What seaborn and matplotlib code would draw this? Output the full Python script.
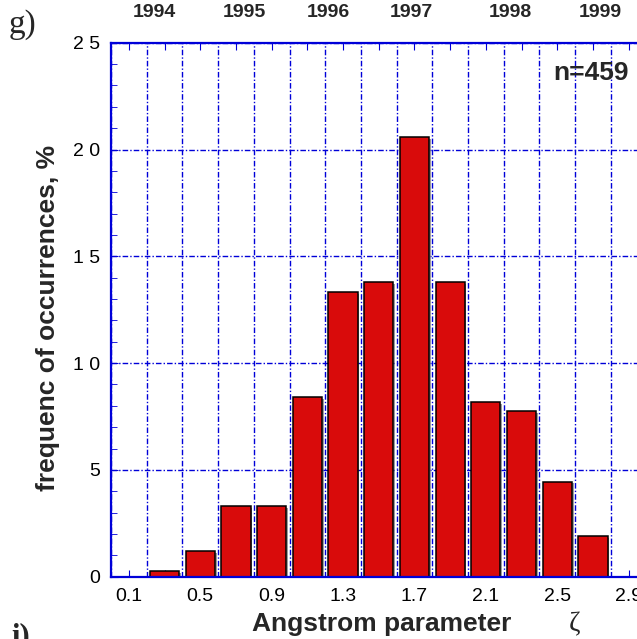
import numpy as np
import pandas as pd
import matplotlib
matplotlib.use("Agg")
import matplotlib.pyplot as plt
import matplotlib.patheffects as pe
from matplotlib.ticker import FixedLocator, FixedFormatter, FuncFormatter, MultipleLocator
import seaborn as sns

# ---------------- data ----------------
angstrom_bins = [0.3, 0.5, 0.7, 0.9, 1.1, 1.3, 1.5, 1.7, 1.9, 2.1, 2.3, 2.5, 2.7]
frequency_pct = [0.27, 1.19, 3.30, 3.30, 8.41, 13.32, 13.80, 20.58, 13.80, 8.18, 7.76, 4.45, 1.90]
x_tick_values = [0.1, 0.5, 0.9, 1.3, 1.7, 2.1, 2.5, 2.9]
x_tick_labels = ["0.1", "0.5", "0.9", "1.3", "1.7", "2.1", "2.5", "2.9"]
y_tick_values = [0, 5, 10, 15, 20, 25]
y_tick_labels = ["0", "5", "1 0", "1 5", "2 0", "2 5"]
year_labels = ["1994", "1995", "1996", "1997", "1998", "1999"]
sample_size = 459

# layout-only positions of the year captions (data units along x)
year_x = [0.245, 0.75, 1.215, 1.68, 2.235, 2.74]

df = pd.DataFrame({"angstrom": angstrom_bins, "freq": frequency_pct})

sns.set_style("ticks")
plt.rcParams["font.family"] = ["Liberation Sans", "DejaVu Sans"]

W, H = 637, 639
fig = plt.figure(figsize=(W / 100, H / 100), dpi=100)
ax = fig.add_axes([111 / W, 62.3 / H, 535.5 / W, 534 / H])

blue = "#0000D8"
grid_ls = (0, (4, 1.5, 1, 1.5))

sns.barplot(data=df, x="angstrom", y="freq", native_scale=True, width=0.82,
            color="#D90B0B", saturation=1, edgecolor="black", linewidth=1.1,
            errorbar=None, ax=ax)
for p in ax.patches:
    p.set_path_effects([pe.SimplePatchShadow(offset=(1.2, -1.2), shadow_rgbFace="0.45", alpha=0.7),
                        pe.Normal()])

ax.set_xlim(0, 3.0)
ax.set_ylim(0, 25)

# x ticks: marks at every bin centre, labels every other one; grid at bin edges
ax.xaxis.set_major_locator(MultipleLocator(0.2, offset=0.1))
lab_map = dict(zip([round(v, 2) for v in x_tick_values], x_tick_labels))
ax.xaxis.set_major_formatter(FuncFormatter(lambda v, pos: lab_map.get(round(v, 2), "")))
ax.xaxis.set_minor_locator(MultipleLocator(0.2))

ax.yaxis.set_major_locator(FixedLocator(y_tick_values))
ax.yaxis.set_major_formatter(FixedFormatter(y_tick_labels))
ax.yaxis.set_minor_locator(MultipleLocator(1))

ax.set_axisbelow(True)
ax.grid(which="minor", axis="x", color=blue, linestyle=grid_ls, linewidth=1.0)
ax.grid(which="major", axis="y", color=blue, linestyle=grid_ls, linewidth=1.0)
ax.grid(which="major", axis="x", visible=False)

ax.tick_params(which="both", direction="in", color=blue, top=True, right=True,
               labelsize=14, labelcolor="black")
ax.tick_params(axis="x", which="major", length=5, pad=8)
ax.tick_params(axis="x", which="minor", length=0)
ax.tick_params(axis="y", which="major", length=5, pad=8)
ax.tick_params(axis="y", which="minor", length=4)

for s in ax.spines.values():
    s.set_color(blue)
    s.set_linewidth(1.6)

ax.set_xlabel("Angstrom parameter", fontsize=19, fontweight="bold")
ax.xaxis.label.set(ha="center", va="center")
ax.xaxis.set_label_coords(0.505, -0.0886)
ax.set_ylabel("frequenc of occurrences, %", fontsize=19, fontweight="bold")
ax.yaxis.label.set(ha="center", va="center")
ax.yaxis.set_label_coords(-0.1176, 0.4845)

ax.text(0.897, 0.943, f"n={sample_size}", transform=ax.transAxes, fontsize=19,
        fontweight="bold", ha="center", va="center")

tr = ax.get_xaxis_transform()
for xv, yl in zip(year_x, year_labels):
    ax.text(xv, 1.0 + 30 / 534, yl, transform=tr, fontsize=14, fontweight="bold",
            ha="center", va="center", clip_on=False)

fig.text(574 / W, 1 - 625 / H, "\u03b6", fontsize=20, family=["Liberation Serif", "DejaVu Serif"],
         ha="center", va="center")
fig.text(9 / W, 1 - 25 / H, "g)", fontsize=24, family=["Liberation Serif", "DejaVu Serif"],
         ha="left", va="center")
fig.text(11 / W, 1 - 622 / H, "i)", fontsize=22, fontweight="bold",
         family=["Liberation Serif", "DejaVu Serif"], ha="left", va="top")

fig.savefig("out.png", dpi=100)
